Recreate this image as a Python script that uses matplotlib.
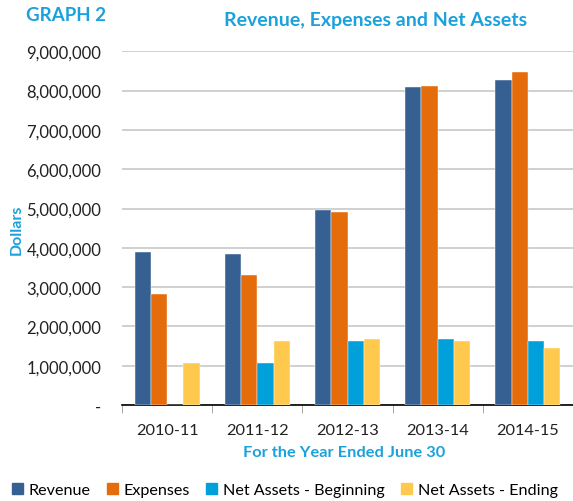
import numpy as np
import matplotlib.pyplot as plt
from matplotlib.ticker import FuncFormatter
from matplotlib.patches import Patch

plt.rcParams['font.family'] = ['Lato', 'DejaVu Sans']

years = ['2010-11', '2011-12', '2012-13', '2013-14', '2014-15']
revenue = [3900000, 3850000, 4960000, 8080000, 8260000]
expenses = [2820000, 3310000, 4920000, 8120000, 8460000]
net_begin = [0, 1080000, 1620000, 1670000, 1630000]
net_end = [1080000, 1620000, 1670000, 1630000, 1440000]

series = [
    ('Revenue', revenue, '#376092'),
    ('Expenses', expenses, '#E46C0A'),
    ('Net Assets - Beginning', net_begin, '#00A0DA'),
    ('Net Assets - Ending', net_end, '#FFC94D'),
]
blue = '#1BA1DB'

fig = plt.figure(figsize=(5.73, 5.02), dpi=100)
ax = fig.add_axes([0.213, 0.191, 0.787, 0.705])

x = np.arange(len(years))
w = 0.18
for i, (name, vals, col) in enumerate(series):
    ax.bar(x + (i - 1.5) * w, vals, w, color=col, label=name, zorder=3,
           edgecolor='white', linewidth=0.3)

ax.set_xlim(-0.5, len(years) - 0.5)
ax.set_ylim(0, 9000000)
ax.set_yticks(np.arange(0, 9000001, 1000000))
ax.yaxis.set_major_formatter(FuncFormatter(lambda v, p: '-' if v == 0 else f'{int(v):,}'))
ax.grid(axis='y', color='#D0D0D0', linewidth=1.4, zorder=0)
ax.tick_params(axis='y', length=0, pad=15, labelsize=12, labelcolor='#222222')

ax.set_xticks(x)
ax.set_xticklabels(years)
ax.set_xticks(np.arange(-0.5, len(years)), minor=True)
ax.tick_params(axis='x', which='major', length=0, pad=13, labelsize=11.8, labelcolor='#222222')
ax.tick_params(axis='x', which='minor', length=6, color='#999999', direction='out')

for s in ['top', 'right', 'left']:
    ax.spines[s].set_visible(False)
ax.spines['bottom'].set_color('black')
ax.spines['bottom'].set_linewidth(1.2)

fig.text(0.045, 0.97, 'GRAPH 2', color=blue, fontsize=13.5, fontweight='bold', va='center')
fig.text(0.655, 0.96, 'Revenue, Expenses and Net Assets', color=blue, fontsize=14,
         fontweight='bold', ha='center', va='center')
fig.text(0.03, 0.543, 'Dollars', color=blue, fontsize=11.5, fontweight='bold',
         rotation=90, ha='center', va='center')
fig.text(0.6, 0.098, 'For the Year Ended June 30', color=blue, fontsize=11.8,
         fontweight='bold', ha='center', va='center')

handles = [Patch(color=c, label=n) for n, _, c in series]
fig.legend(handles=handles, loc='center left', bbox_to_anchor=(-0.005, 0.022), ncol=4,
           frameon=False, fontsize=11.6, handlelength=0.7, handleheight=0.7,
           handletextpad=0.35, columnspacing=1.0)

fig.savefig('out.png', dpi=100)
